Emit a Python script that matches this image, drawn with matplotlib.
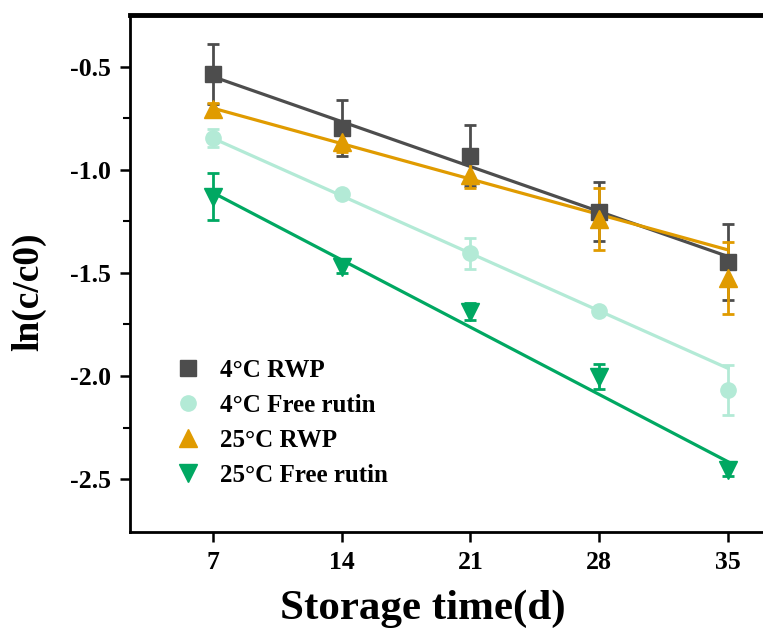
import numpy as np
import matplotlib
matplotlib.use("Agg")
from matplotlib import pyplot as plt
from matplotlib.lines import Line2D

plt.rcParams['font.family'] = ['Liberation Serif', 'DejaVu Serif']
plt.rcParams['font.weight'] = 'bold'
plt.rcParams['axes.unicode_minus'] = False

# data
days = [7, 14, 21, 28, 35]
labels = ['4°C RWP', '4°C Free rutin', '25°C RWP', '25°C Free rutin']

rwp_4 = [-0.534, -0.796, -0.930, -1.202, -1.448]
rwp_4_err = [0.145, 0.137, 0.150, 0.145, 0.185]
free_4 = [-0.846, -1.117, -1.404, -1.683, -2.068]
free_4_err = [0.045, 0.02, 0.075, 0.02, 0.12]
rwp_25 = [-0.704, -0.862, -1.024, -1.238, -1.526]
rwp_25_err = [0.03, 0.05, 0.062, 0.15, 0.175]
free_25 = [-1.130, -1.470, -1.688, -2.003, -2.456]
free_25_err = [0.113, 0.03, 0.04, 0.06, 0.03]

# fitted lines: value at day 7 and at day 35
fit_x = [7, 35]
fit_rwp_4 = [-0.547, -1.420]
fit_free_4 = [-0.846, -1.963]
fit_rwp_25 = [-0.700, -1.388]
fit_free_25 = [-1.110, -2.416]

colors = ['#4d4d4d', '#b3ead6', '#e09b00', '#00a862']
markers = ['s', 'o', '^', 'v']
msizes = [11, 11, 12.5, 12.5]

means = [rwp_4, free_4, rwp_25, free_25]
errs = [rwp_4_err, free_4_err, rwp_25_err, free_25_err]
fits = [fit_rwp_4, fit_free_4, fit_rwp_25, fit_free_25]

fig = plt.figure(figsize=(7.63, 6.31), dpi=100)
ax = fig.add_axes([130/763, 1-532/631, 644/763, 517/631])

for m, e, f, c, mk, ms in zip(means, errs, fits, colors, markers, msizes):
    ax.plot(fit_x, f, color=c, lw=2.3, zorder=2)
    ax.errorbar(days, m, yerr=e, fmt=mk, color=c, ms=ms, capsize=4.5,
                elinewidth=2.0, capthick=2.0, zorder=3)

ax.set_xlim(2.5, 37.5)
ax.set_ylim(-2.757, -0.248)
ax.set_xticks(days)
ax.set_yticks([-0.5, -1.0, -1.5, -2.0, -2.5])
ax.set_yticks([-0.75, -1.25, -1.75, -2.25], minor=True)
ax.tick_params(axis='both', which='major', direction='out', length=7, width=1.8,
               labelsize=18.5, pad=7)
ax.tick_params(axis='y', which='minor', direction='out', length=5, width=1.5)
for lab in ax.get_xticklabels() + ax.get_yticklabels():
    lab.set_fontweight('bold')

for s in ['left', 'bottom']:
    ax.spines[s].set_linewidth(2)
ax.spines['top'].set_linewidth(3.5)
ax.spines['right'].set_linewidth(2)

ax.set_xlabel('Storage time(d)', fontsize=31, fontweight='bold')
ax.set_ylabel('ln(c/c0)', fontsize=27, fontweight='bold')
ax.xaxis.set_label_coords(0.455, -0.112)
ax.yaxis.set_label_coords(-0.13, 0.465)

handles = [Line2D([], [], ls='none', marker=mk, color=c, ms=ms)
           for c, mk, ms in zip(colors, markers, msizes)]
ax.legend(handles, labels, loc='upper left', bbox_to_anchor=(0.036, 0.379),
          frameon=False, fontsize=18, handlelength=1.0, handletextpad=0.78,
          labelspacing=0.48)

fig.savefig('out.png', dpi=100)
